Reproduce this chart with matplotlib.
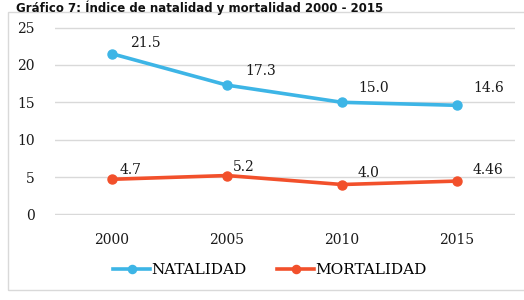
import matplotlib.pyplot as plt
from matplotlib.patches import Rectangle

# data
years = ['2000', '2005', '2010', '2015']
natalidad = [21.5, 17.3, 15.0, 14.6]
mortalidad = [4.7, 5.2, 4.0, 4.46]
nat_labels = ['21.5', '17.3', '15.0', '14.6']
mor_labels = ['4.7', '5.2', '4.0', '4.46']
yticks = [0, 5, 10, 15, 20, 25]

# label offsets (pixels, left edge of text)
nat_off = [(18, 11), (18, 14), (16, 14), (16, 17)]
mor_off = [(8, 9), (6, 9), (16, 12), (16, 11)]

blue = '#3db5e6'
red = '#f2502b'
serif = 'DejaVu Serif'
txt = '#1a1a1a'

fig = plt.figure(figsize=(5.24, 3.0), dpi=100)
fig.patches.append(Rectangle((8 / 524, 10 / 300), 1, 1 - 22 / 300,
                             transform=fig.transFigure, fill=False,
                             edgecolor='#d9d9d9', lw=1))
fig.text(0.03, 1.0 - 0.5 / 300, 'Gráfico 7: Índice de natalidad y mortalidad 2000 - 2015',
         fontsize=8.5, fontweight='bold', va='top', ha='left',
         family='DejaVu Sans', color='#111111')

ax = fig.add_axes([54.5 / 524, 1 - 215 / 300, 460 / 524, 188 / 300])
x = list(range(len(years)))
ax.plot(x, natalidad, color=blue, lw=2.6, marker='o', ms=6.5, label='NATALIDAD', zorder=3)
ax.plot(x, mortalidad, color=red, lw=2.6, marker='o', ms=6.5, label='MORTALIDAD', zorder=3)

for i in x:
    ax.annotate(nat_labels[i], (i, natalidad[i]), xytext=nat_off[i],
                textcoords='offset pixels', ha='left', va='center',
                fontsize=10, family=serif, color=txt)
    ax.annotate(mor_labels[i], (i, mortalidad[i]), xytext=mor_off[i],
                textcoords='offset pixels', ha='left', va='center',
                fontsize=10, family=serif, color=txt)

ax.set_xlim(-0.5, len(years) - 0.5)
ax.set_ylim(-0.08, 25.08)
ax.set_xticks(x)
ax.set_xticklabels(years, family=serif, fontsize=10, color=txt)
ax.set_yticks(yticks)
ax.set_yticklabels([str(v) for v in yticks], family=serif, fontsize=10, color=txt)
ax.tick_params(length=0, axis='y', pad=14)
ax.tick_params(length=0, axis='x', pad=13)
ax.grid(axis='y', color='#d9d9d9', lw=1)
ax.set_axisbelow(True)
for s in ax.spines.values():
    s.set_visible(False)

ax.legend(loc='center', bbox_to_anchor=(270 / 524, 1 - 270 / 300),
          bbox_transform=fig.transFigure, ncol=2, frameon=False,
          prop={'family': serif, 'size': 11}, handlelength=2.4,
          handletextpad=0.1, columnspacing=2.0, markerscale=0.9)

fig.savefig('out.png', dpi=100)
